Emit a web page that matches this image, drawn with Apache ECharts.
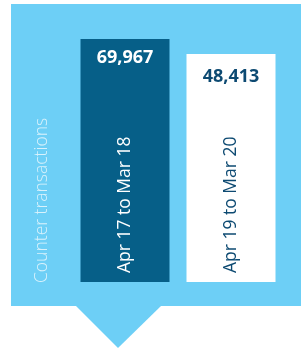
<!DOCTYPE html>
<html>
<head>
<meta charset="utf-8">
<script src="https://cdn.jsdelivr.net/npm/echarts@6/dist/echarts.min.js"></script>
<style>
html, body { margin: 0; padding: 0; background: #fff; }
#chart { width: 302px; height: 350px; }
</style>
</head>
<body>
<div id="chart"></div>
<script>
var periods = ['Apr 17 to Mar 18', 'Apr 19 to Mar 20'];
var counts = [69967, 48413];
var barColors = ['#065f88', '#ffffff'];
var textColors = ['#ffffff', '#0d4a72'];
var valueGap = [10, 14];

var chart = echarts.init(document.getElementById('chart'));

var barData = [], labelData = [];
for (var i = 0; i < counts.length; i++) {
	barData.push({
		value: counts[i],
		itemStyle: { color: barColors[i] },
		label: { color: textColors[i] }
	});
	labelData.push({
		value: counts[i],
		label: { color: textColors[i], distance: valueGap[i] }
	});
}

var option = {
	backgroundColor: '#ffffff',
	textStyle: { fontFamily: 'Open Sans' },
	graphic: [{
		type: 'rect',
		z: -10,
		shape: { x: 11, y: 4, width: 290, height: 302 },
		style: { fill: '#6dcff6' }
	}, {
		type: 'polygon',
		z: -10,
		shape: { points: [[75, 305], [162, 305], [118, 348]] },
		style: { fill: '#6dcff6' }
	}],
	grid: { left: 72, right: 18, top: 39, bottom: 68 },
	xAxis: {
		type: 'category',
		data: periods,
		show: false
	},
	yAxis: {
		type: 'log',   // the picture's bar heights are not linear in the counts
		min: 179,
		max: 70000,
		offset: 30,
		axisLine: { show: false },
		axisTick: { show: false },
		axisLabel: { show: false },
		splitLine: { show: false },
		name: 'Counter transactions',
		nameLocation: 'start',
		nameRotate: 90,
		nameGap: 1,
		nameTextStyle: {
			color: '#d9f2fc',
			fontSize: 17.5,
			fontWeight: 300,
			align: 'left',
			verticalAlign: 'middle'
		}
	},
	series: [{
		type: 'bar',
		barWidth: 89,
		data: barData,
		silent: true,
		label: {
			show: true,
			formatter: '{b}',
			position: 'insideBottom',
			rotate: 90,
			align: 'left',
			verticalAlign: 'middle',
			distance: 9,
			fontSize: 17.5
		}
	}, {
		type: 'bar',
		barWidth: 89,
		barGap: '-100%',
		data: labelData,
		silent: true,
		itemStyle: { color: 'transparent' },
		label: {
			show: true,
			position: 'insideTop',
			fontSize: 18,
			fontWeight: 'bold',
			formatter: function (p) {
				return p.value.toLocaleString('en-US');
			}
		}
	}]
};
chart.setOption(option);
</script>
</body>
</html>
